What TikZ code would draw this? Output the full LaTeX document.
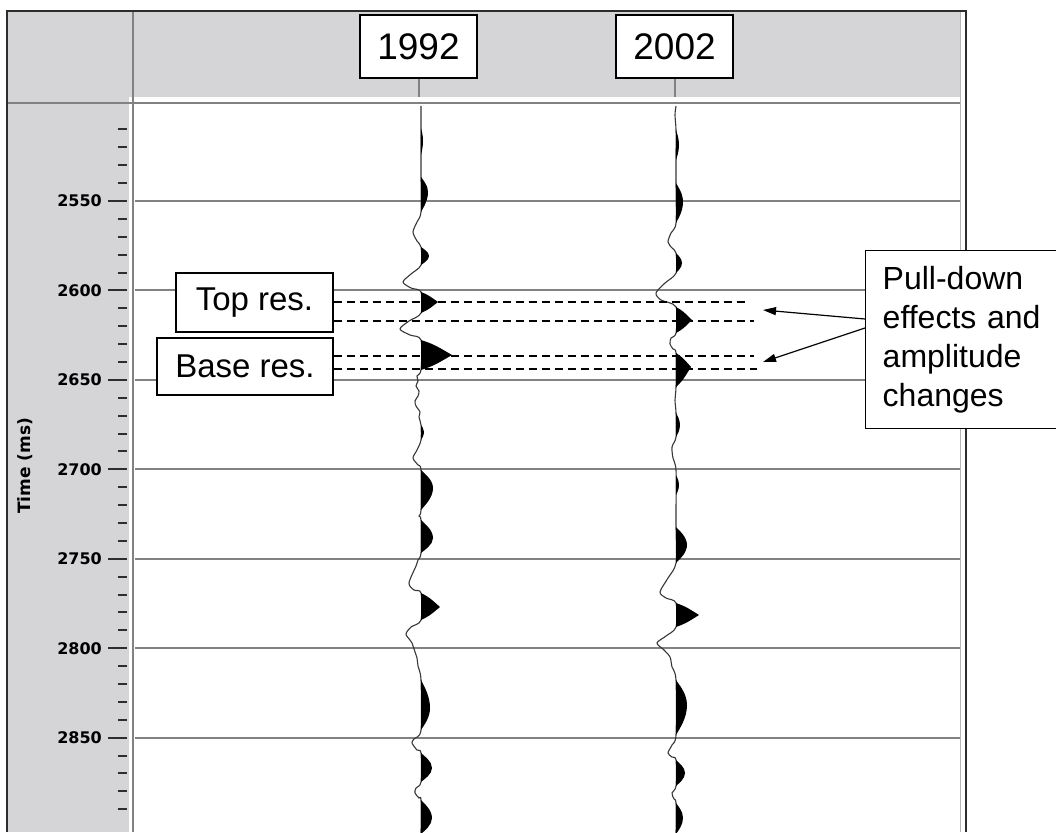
\documentclass[tikz,border=0pt]{standalone}
\usepackage{fontspec}
\setmainfont{Liberation Sans}
\newfontfamily\axisfont{DejaVu Sans}
\usetikzlibrary{arrows.meta}
\definecolor{hdr}{RGB}{213,213,216}
\definecolor{gridc}{RGB}{130,130,130}
\definecolor{framec}{RGB}{45,45,45}
\definecolor{tracec}{RGB}{55,55,55}
% rounded lobe: base x, top y, peak y, bottom y, amplitude
\newcommand\rlobe[5]{\fill (#1,#2) .. controls ({#1+0.3*#5},{#2+0.2*(#3-#2)}) and ({#1+#5},{#3-0.45*(#3-#2)}) .. ({#1+#5},#3) .. controls ({#1+#5},{#3+0.45*(#4-#3)}) and ({#1+0.3*#5},{#4-0.2*(#4-#3)}) .. (#1,#4) -- cycle;}
% triangular lobe
\newcommand\tlobe[5]{\fill (#1,#2) .. controls ({#1+0.42*#5},{#2+0.3*(#3-#2)}) .. ({#1+#5},#3) .. controls ({#1+0.42*#5},{#4-0.3*(#4-#3)}) .. (#1,#4) -- cycle;}
\begin{document}
\begin{tikzpicture}[x=1pt,y=-1pt,
  yearbox/.style={draw=black, line width=1.6pt, fill=white, minimum width=117pt, minimum height=63pt, inner sep=0pt, font=\fontsize{37}{37}\selectfont},
  labbox/.style={draw=black, line width=1.4pt, fill=white, inner sep=0pt, font=\fontsize{33}{33}\selectfont},
  gridline/.style={gridc, line width=2pt},
  dashline/.style={black, line width=1.3pt, dash pattern=on 8pt off 5pt},
  arr/.style={black, line width=1.2pt, -{Triangle[length=13pt,width=8pt]}},
  trace/.style={tracec, line width=1.1pt},
  tickmark/.style={framec, line width=2pt},
  axislab/.style={font=\axisfont\bfseries\fontsize{16}{16}\selectfont, inner sep=0pt, anchor=east},
]
\useasboundingbox (0,0) rectangle (1056,832);
\fill[white] (0,0) rectangle (1056,832);
% panels
\fill[hdr] (8,11) rectangle (960,97);
\fill[hdr] (8,97) rectangle (129,832);
\draw[gridc, line width=2.5pt] (8,103) -- (960,103);
\draw[gridc, line width=2pt] (133,11) -- (133,832);
\draw[gridc!60, line width=1pt] (960,11) -- (960,832);
\draw[framec, line width=2pt] (7,832) -- (7,11) -- (966,11) -- (966,832);
% grid lines, ticks and labels
\foreach \t in {2550,2600,...,2850}{
  \draw[gridline] (135,{201+(\t-2550)*1.789}) -- (960,{201+(\t-2550)*1.789});
  \draw[tickmark] (108,{201+(\t-2550)*1.789}) -- (127,{201+(\t-2550)*1.789});
  \node[axislab] (lab\t) at (102,{201+(\t-2550)*1.789}) {\t};
}
\foreach \t in {2510,2520,...,2890}{
  \draw[tickmark] (118,{201+(\t-2550)*1.789}) -- (127,{201+(\t-2550)*1.789});
}
\node[rotate=90, font=\axisfont\bfseries\fontsize{17}{17}\selectfont, inner sep=0pt] (ylab) at (25,466) {Time (ms)};
% year boxes
\node[yearbox] (y1992) at (418.5,46.5) {1992};
\node[yearbox] (y2002) at (674.5,46.5) {2002};
\coordinate (hb) at (0,97);
\draw[gridc, line width=2pt] (y1992.south) -- (y1992.south |- hb);
\draw[gridc, line width=2pt] (y2002.south) -- (y2002.south |- hb);
% trace 1992
\draw[trace] plot[smooth, tension=0.5] coordinates {(421,106) (421,128) (421,155) (421,177) (421,212) (417,222) (413,232) (417,241) (421,247) (421,265) (411,274) (403,282) (411,288) (421,292) (421,313) (409,321) (400,329) (410,335) (421,340) (421,370) (417,376) (418,381) (416,386) (419,391) (418,396) (415,401) (416,406) (420,412) (419,417) (421,425) (421,440) (417,450) (413,458) (418,465) (421,470) (421,510) (419,516) (421,520) (421,553) (418,560) (416,566) (409,583) (414,590) (421,593) (421,620) (411,627) (406,634) (410,640) (412,643) (415,652) (417,658) (418,666) (421,680) (421,730) (414,739) (412,743) (417,750) (421,753) (421,782) (416,788) (415,793) (419,798) (421,800) (421,834)};
\rlobe{421}{128}{141}{155}{2}
\rlobe{421}{177}{192}{212}{7}
\rlobe{421}{247}{256}{265}{8}
\tlobe{421}{292}{302}{313}{17}
\tlobe{421}{340}{355}{370}{31}
\rlobe{421}{425}{432}{440}{3}
\rlobe{421}{470}{488}{510}{12}
\rlobe{421}{520}{538}{553}{12}
\tlobe{421}{593}{607}{620}{19}
\rlobe{421}{680}{708}{730}{9}
\rlobe{421}{753}{768}{782}{11}
\rlobe{421}{800}{818}{834}{11}
% trace 2002
\draw[trace] plot[smooth, tension=0.5] coordinates {(676,106) (675,115) (676,130) (676,160) (676,183) (676,223) (671,233) (668,242) (672,248) (676,253) (676,273) (665,283) (656,293) (661,300) (676,307) (676,333) (671,338) (670,344) (673,349) (676,353) (676,387) (675,400) (676,413) (676,437) (672,447) (673,458) (676,470) (676,510) (676,527) (676,563) (668,578) (660,592) (666,598) (676,603) (676,627) (666,636) (657,643) (664,650) (670,657) (672,667) (676,680) (676,735) (672,745) (668,753) (672,757) (676,760) (676,786) (672,793) (674,799) (676,803) (676,834)};
\rlobe{676}{130}{145}{160}{3}
\rlobe{676}{183}{202}{223}{7}
\rlobe{676}{253}{263}{273}{6}
\tlobe{676}{307}{320}{333}{16}
\tlobe{676}{353}{367}{387}{15}
\rlobe{676}{413}{425}{437}{4}
\rlobe{676}{475}{485}{495}{3}
\rlobe{676}{527}{545}{563}{11}
\tlobe{676}{603}{615}{627}{23}
\rlobe{676}{680}{705}{735}{11}
\rlobe{676}{760}{773}{786}{9}
\rlobe{676}{803}{818}{834}{7}
% reservoir labels
\node[labbox, minimum width=157pt, minimum height=59pt] (top) at (254.5,302.5) {Top res.};
\node[labbox, minimum width=176pt, minimum height=57pt] (base) at (245,366.5) {Base res.};
\coordinate (d1) at (745,302);
\coordinate (d2) at (754,321);
\coordinate (d3) at (754,356);
\coordinate (d4) at (757,369);
\draw[dashline] (top.east |- d1) -- (d1);
\draw[dashline] (top.east |- d2) -- (d2);
\draw[dashline] (base.east |- d3) -- (d3);
\draw[dashline] (base.east |- d4) -- (d4);
% annotation box and arrows
\node[labbox, anchor=north west, inner xsep=17pt, inner ysep=0pt, text width=171pt, minimum height=178pt, align=left, font=\fontsize{32}{39}\selectfont] (pd) at (865,250) {Pull-down\\effects and\\amplitude\\changes};
\coordinate (s1) at (865,319);
\coordinate (s2) at (865,328);
\coordinate (a1) at (763,310);
\coordinate (a2) at (763,362);
\draw[arr] (pd.west |- s1) -- (a1);
\draw[arr] (pd.west |- s2) -- (a2);
\end{tikzpicture}
\end{document}
